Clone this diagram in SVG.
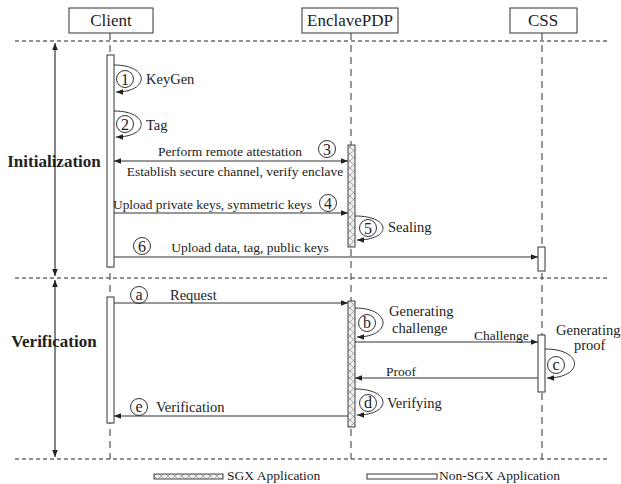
<svg xmlns="http://www.w3.org/2000/svg" width="621" height="484" viewBox="0 0 621 484">
<style>
text{font-family:"Liberation Serif","Times New Roman",serif;fill:#222}
.hd{font-size:17px;text-anchor:middle}
.lb{font-size:13.5px}
.lg{font-size:14.5px}
.big{font-size:17px;font-weight:bold;text-anchor:middle}
.num{font-size:16px;text-anchor:middle}
.box{fill:#fff;stroke:#333;stroke-width:1}
.life{stroke:#555;stroke-width:1.2;stroke-dasharray:7,5;fill:none}
.sep{stroke:#222;stroke-width:1;stroke-dasharray:4,3;fill:none}
.bar{fill:#fff;stroke:#333;stroke-width:1}
.sgx{fill:url(#hatch);stroke:#444;stroke-width:1}
.msg{stroke:#333;stroke-width:1.1;fill:none}
.loop{stroke:#333;stroke-width:1;fill:none}
.circ{fill:none;stroke:#333;stroke-width:1}
.vax{stroke:#333;stroke-width:1.2;fill:none}
</style>
<defs>
<pattern id="hatch" width="7" height="7" patternUnits="userSpaceOnUse">
<rect width="7" height="7" fill="#eee"/>
<path d="M0,0 L7,7 M7,0 L0,7" stroke="#999" stroke-width="0.8"/>
</pattern>
<marker id="ah" viewBox="0 0 10 10" refX="10" refY="5" markerWidth="7" markerHeight="7" orient="auto-start-reverse" markerUnits="userSpaceOnUse">
<path d="M0,1 L10,5 L0,9 z" fill="#222"/>
</marker>
</defs>

<!-- section separators -->
<g id="separators">
<line class="sep" x1="15" y1="41" x2="610" y2="41"/>
<line class="sep" x1="15" y1="278" x2="610" y2="278"/>
<line class="sep" x1="15" y1="459" x2="610" y2="459"/>
</g>

<!-- lifelines -->
<g id="lifelines">
<line class="life" x1="110" y1="33" x2="110" y2="459"/>
<line class="life" x1="351" y1="33" x2="351" y2="459"/>
<line class="life" x1="542" y1="33" x2="542" y2="459"/>
</g>

<!-- headers -->
<g id="client"><rect class="box" x="69" y="8" width="84" height="25"/><text class="hd" x="111" y="26">Client</text></g>
<g id="enclavepdp"><rect class="box" x="302" y="8" width="96" height="25"/><text class="hd" x="350" y="26">EnclavePDP</text></g>
<g id="css"><rect class="box" x="510" y="8" width="67" height="25"/><text class="hd" x="543" y="26">CSS</text></g>

<!-- phase axis -->
<g id="phases">
<line class="vax" x1="55" y1="43" x2="55" y2="276" marker-start="url(#ah)" marker-end="url(#ah)"/>
<line class="vax" x1="55" y1="280" x2="55" y2="457" marker-start="url(#ah)" marker-end="url(#ah)"/>
<text class="big" x="54" y="167">Initialization</text>
<text class="big" x="54" y="347">Verification</text>
</g>

<!-- activation bars -->
<g id="bars">
<rect class="bar" x="107" y="55" width="7" height="212"/>
<rect class="bar" x="107" y="297" width="7" height="126"/>
<rect class="sgx" x="348" y="145" width="7" height="102"/>
<rect class="sgx" x="348" y="301" width="7" height="126"/>
<rect class="bar" x="538" y="247" width="7" height="24"/>
<rect class="bar" x="538" y="335" width="7" height="57"/>
</g>

<!-- connectors -->
<g id="connectors">
<path class="loop" d="M114,65 C150,65 150,92 116,92" marker-end="url(#ah)"/>
<path class="loop" d="M114,111 C150,111 150,137 116,137" marker-end="url(#ah)"/>
<line class="msg" x1="114" y1="161" x2="348" y2="161" marker-start="url(#ah)" marker-end="url(#ah)"/>
<line class="msg" x1="114" y1="213" x2="348" y2="213" marker-end="url(#ah)"/>
<path class="loop" d="M355,216 C392,216 392,240 357,240" marker-end="url(#ah)"/>
<line class="msg" x1="114" y1="257" x2="538" y2="257" marker-end="url(#ah)"/>
<line class="msg" x1="114" y1="303" x2="348" y2="303" marker-end="url(#ah)"/>
<path class="loop" d="M355,308 C392,308 392,337 357,337" marker-end="url(#ah)"/>
<line class="msg" x1="355" y1="342" x2="538" y2="342" marker-end="url(#ah)"/>
<path class="loop" d="M545,349 C584,349 584,378 547,378" marker-end="url(#ah)"/>
<line class="msg" x1="538" y1="378" x2="355" y2="378" marker-end="url(#ah)"/>
<path class="loop" d="M355,389 C392,389 392,415 357,415" marker-end="url(#ah)"/>
<line class="msg" x1="348" y1="416" x2="114" y2="416" marker-end="url(#ah)"/>
</g>

<!-- labels -->
<g id="labels">
<circle class="circ" cx="125" cy="79" r="8.5"/><text class="num" x="125" y="85">1</text>
<text class="lg" x="146" y="84">KeyGen</text>
<circle class="circ" cx="125" cy="124" r="8.5"/><text class="num" x="125" y="130">2</text>
<text class="lg" x="146" y="130">Tag</text>
<text class="lb" x="230" y="156" text-anchor="middle">Perform remote attestation</text>
<circle class="circ" cx="327" cy="149" r="8.5"/><text class="num" x="327" y="155">3</text>
<text class="lb" x="235" y="176" text-anchor="middle">Establish secure channel, verify enclave</text>
<text class="lb" x="113" y="209" textLength="199" lengthAdjust="spacingAndGlyphs">Upload private keys, symmetric keys</text>
<circle class="circ" cx="328" cy="203" r="8.5"/><text class="num" x="328" y="209">4</text>
<circle class="circ" cx="368" cy="228" r="8.5"/><text class="num" x="368" y="234">5</text>
<text class="lg" x="388" y="232">Sealing</text>
<circle class="circ" cx="142" cy="246" r="8.5"/><text class="num" x="142" y="252">6</text>
<text class="lb" x="250" y="252" text-anchor="middle">Upload data, tag, public keys</text>
<circle class="circ" cx="139" cy="295" r="8.5"/><text class="num" x="139" y="300">a</text>
<text class="lg" x="170" y="300">Request</text>
<circle class="circ" cx="367" cy="323" r="8.5"/><text class="num" x="367" y="328">b</text>
<text class="lg" x="389" y="316">Generating</text>
<text class="lg" x="392" y="333">challenge</text>
<text class="lb" x="474" y="340">Challenge</text>
<circle class="circ" cx="556" cy="365" r="8.5"/><text class="num" x="556" y="370">c</text>
<text class="lg" x="556" y="335">Generating</text>
<text class="lg" x="574" y="350">proof</text>
<text class="lb" x="386" y="376">Proof</text>
<circle class="circ" cx="368" cy="403" r="8.5"/><text class="num" x="368" y="408">d</text>
<text class="lg" x="387" y="408">Verifying</text>
<circle class="circ" cx="139" cy="407" r="8.5"/><text class="num" x="139" y="412">e</text>
<text class="lg" x="156" y="412">Verification</text>
</g>

<!-- legend -->
<g id="legend">
<rect class="sgx" x="154" y="474" width="69" height="5"/>
<text class="lb" x="227" y="480">SGX Application</text>
<rect class="bar" x="367" y="474" width="70" height="5"/>
<text class="lb" x="439" y="480">Non-SGX Application</text>
</g>
</svg>
